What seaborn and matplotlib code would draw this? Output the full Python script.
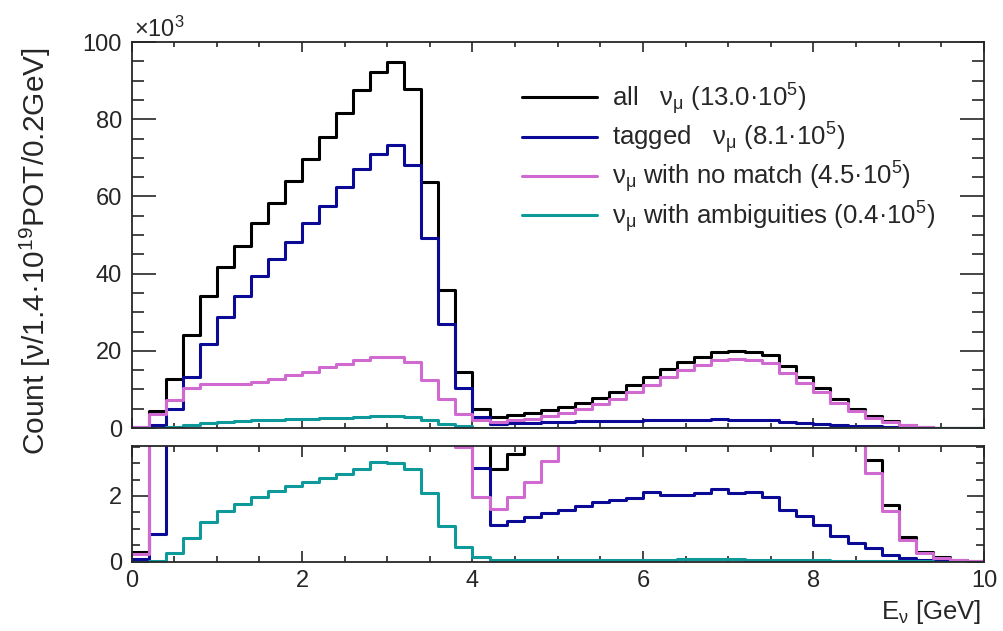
import matplotlib
matplotlib.use("Agg")
import matplotlib.pyplot as plt
import numpy as np
import pandas as pd
import seaborn as sns
from matplotlib.lines import Line2D
from matplotlib.ticker import MultipleLocator

# 50 bins of 0.2 GeV between 0 and 10 GeV, counts in units of 10^3
bin_edges = np.round(np.linspace(0.0, 10.0, 51), 2)
bin_centers = 0.5 * (bin_edges[:-1] + bin_edges[1:])

all_numu = [
    0.3, 4.5, 12.6, 24.2, 34.3, 41.7, 47.2, 53.0, 58.3, 63.9,
    69.8, 75.5, 81.7, 87.5, 92.3, 94.7, 87.9, 63.7, 35.7, 14.4,
    4.95, 2.82, 3.29, 3.9, 4.6, 5.5, 6.6, 7.9, 9.4, 11.2,
    13.3, 15.2, 17.0, 18.4, 19.6, 19.9, 19.6, 18.8, 16.0, 13.2,
    10.4, 7.4, 4.8, 3.08, 1.74, 0.75, 0.29, 0.13, 0.06, 0.02,
]
tagged_numu = [
    0.07, 0.83, 4.8, 13.3, 21.7, 28.8, 34.1, 39.3, 43.8, 48.2,
    53.0, 57.6, 62.5, 67.1, 71.0, 73.3, 68.1, 49.3, 27.0, 10.4,
    2.84, 1.12, 1.24, 1.35, 1.49, 1.58, 1.70, 1.81, 1.89, 1.93,
    2.12, 2.02, 2.03, 2.10, 2.21, 2.09, 2.11, 1.98, 1.58, 1.38,
    1.12, 0.79, 0.58, 0.42, 0.19, 0.10, 0.05, 0.02, 0.01, 0.0,
]
nomatch_numu = [
    0.22, 3.6, 7.2, 10.4, 11.5, 11.5, 11.5, 12.0, 12.6, 13.7,
    14.6, 15.7, 16.7, 17.7, 18.4, 18.4, 17.1, 12.4, 7.4, 3.5,
    1.97, 1.60, 1.97, 2.42, 3.05, 4.0, 4.9, 6.2, 7.6, 9.2,
    11.2, 13.2, 14.9, 16.4, 17.5, 17.8, 17.6, 16.8, 14.2, 11.6,
    9.2, 6.5, 4.3, 2.70, 1.53, 0.67, 0.26, 0.12, 0.05, 0.02,
]
ambig_numu = [
    0.0, 0.03, 0.25, 0.71, 1.20, 1.54, 1.76, 1.98, 2.15, 2.30,
    2.42, 2.54, 2.67, 2.81, 3.03, 3.00, 2.82, 2.08, 1.09, 0.44,
    0.13, 0.06, 0.05, 0.05, 0.05, 0.05, 0.05, 0.05, 0.05, 0.05,
    0.06, 0.06, 0.07, 0.07, 0.07, 0.07, 0.06, 0.06, 0.05, 0.04,
    0.04, 0.03, 0.03, 0.02, 0.02, 0.01, 0.01, 0.0, 0.0, 0.0,
]

sample_names = ["all", "tagged", "nomatch", "ambig"]
sample_labels = [
    "all   ν$_{μ}$ (13.0·10$^{5}$)",
    "tagged   ν$_{μ}$ (8.1·10$^{5}$)",
    "ν$_{μ}$ with no match (4.5·10$^{5}$)",
    "ν$_{μ}$ with ambiguities (0.4·10$^{5}$)",
]
sample_colors = ["#000000", "#0a0a96", "#d06ad0", "#0e9a9a"]

df = pd.concat(
    [
        pd.DataFrame({"E": bin_centers, "count": vals, "sample": name})
        for name, vals in zip(sample_names,
                              [all_numu, tagged_numu, nomatch_numu, ambig_numu])
    ],
    ignore_index=True,
)

sns.set_style("ticks")
plt.rcParams["font.family"] = ["Liberation Sans", "DejaVu Sans"]
plt.rcParams["mathtext.fontset"] = "custom"
plt.rcParams["mathtext.rm"] = "Liberation Sans"
plt.rcParams["mathtext.default"] = "regular"

FS = 17
FS_LEG = 18.5
LW = 2.2
fig = plt.figure(figsize=(10.04, 6.31), dpi=100)
ax_top = fig.add_axes([0.131, 0.3217, 0.849, 0.6117])
ax_bot = fig.add_axes([0.131, 0.1098, 0.849, 0.1839])


def draw_hists(ax):
    for name, label, color in zip(sample_names, sample_labels, sample_colors):
        sub = df[df["sample"] == name]
        sns.histplot(
            data=sub, x="E", weights="count", binwidth=0.2, binrange=(0, 10),
            element="step", fill=False, color=color, linewidth=LW,
            ax=ax, label=label,
        )
    ax.set_xlim(0, 10)
    ax.set_xlabel("")
    ax.set_ylabel("")
    for sp in ax.spines.values():
        sp.set_linewidth(1.3)
        sp.set_visible(True)
    ax.xaxis.set_major_locator(MultipleLocator(2))
    ax.xaxis.set_minor_locator(MultipleLocator(0.5))
    ax.tick_params(axis="both", which="both", direction="in",
                   top=True, right=True, width=1.2, labelsize=FS)


draw_hists(ax_top)
ax_top.set_ylim(0, 100)
ax_top.yaxis.set_major_locator(MultipleLocator(20))
ax_top.yaxis.set_minor_locator(MultipleLocator(5))
ax_top.tick_params(axis="y", which="major", length=17, pad=7)
ax_top.tick_params(axis="y", which="minor", length=8.5)
ax_top.tick_params(axis="x", which="major", length=7.5)
ax_top.tick_params(axis="x", which="minor", length=3.8)
ax_top.tick_params(axis="x", labelbottom=False)

draw_hists(ax_bot)
ax_bot.set_ylim(0, 3.53)
ax_bot.yaxis.set_major_locator(MultipleLocator(2))
ax_bot.yaxis.set_minor_locator(MultipleLocator(0.5))
ax_bot.tick_params(axis="y", which="major", length=12, pad=7)
ax_bot.tick_params(axis="y", which="minor", length=6)
ax_bot.tick_params(axis="x", which="major", length=8, pad=6)
ax_bot.tick_params(axis="x", which="minor", length=4)

handles = [Line2D([], [], color=c, lw=LW) for c in sample_colors]
ax_top.legend(
    handles, sample_labels, loc="upper left", bbox_to_anchor=(0.458, 0.899),
    frameon=False, fontsize=FS_LEG, handlelength=2.92, handletextpad=0.58,
    labelspacing=0.13, borderpad=0, borderaxespad=0,
)

fig.text(0.133, 1 - 37 / 631, "×10$^{3}$", fontsize=FS, ha="left",
         va="baseline")
fig.text(0.035, 1 - 251 / 631, "Count [ν/1.4·10$^{19}$POT/0.2GeV]",
         fontsize=21.5, rotation=90, ha="center", va="center")
fig.text(0.977, 1 - 612 / 631, "E$_{ν}$ [GeV]", fontsize=FS_LEG, ha="right",
         va="center")

fig.savefig("out.png", dpi=100)
